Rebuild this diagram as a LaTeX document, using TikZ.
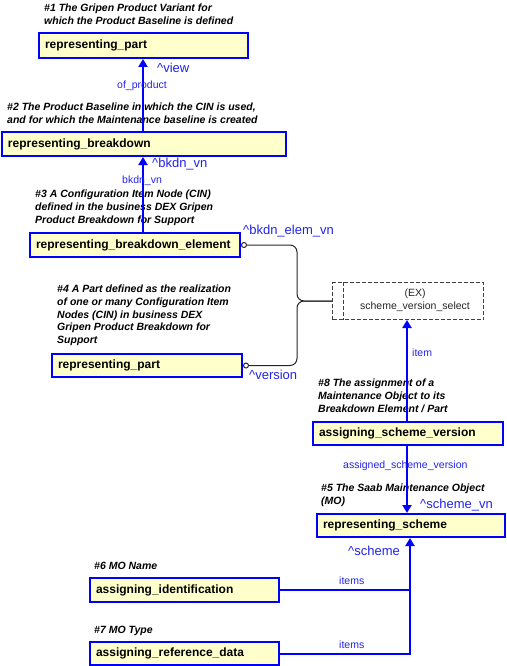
\documentclass[tikz,border=0pt]{standalone}
\usepackage{fontspec}
\setmainfont{Liberation Sans}
\usetikzlibrary{arrows.meta}
\definecolor{boxfill}{HTML}{FFFFCC}
\definecolor{lblue}{HTML}{0000FF}
\definecolor{txtblue}{HTML}{2222EE}
\definecolor{exgray}{HTML}{404040}
\begin{document}
\begin{tikzpicture}[x=1pt,y=-1pt,
  entity/.style={draw=lblue, line width=2pt, fill=boxfill, anchor=north west,
    inner xsep=6pt, inner ysep=0pt, align=left,
    font=\fontsize{12}{14}\selectfont\bfseries},
  note/.style={anchor=north west, inner sep=0pt, align=left,
    font=\fontsize{10.5}{12.6}\selectfont\bfseries\itshape},
  rolelbl/.style={text=txtblue, anchor=base west, inner sep=0pt,
    font=\fontsize{13}{15}\selectfont},
  attrlbl/.style={text=txtblue, anchor=base west, inner sep=0pt,
    font=\fontsize{10.5}{12.6}\selectfont},
  arr/.style={draw=lblue, line width=2pt, -{Triangle[length=8pt,width=9pt]}},
  bline/.style={draw=lblue, line width=2pt},
  bracel/.style={draw=black!85, line width=1pt, rounded corners=7pt,
    {Circle[open,length=6pt,width=6pt,fill=white]}-},
  exbox/.style={draw=exgray, dash pattern=on 4pt off 2pt, line width=1pt,
    fill=white, anchor=north west, inner sep=0pt}
]
\useasboundingbox (0,0) rectangle (506,666);

% entity boxes
\node[entity, minimum width=209pt, text width=197pt, minimum height=25pt] (b1) at (38,32) {representing\_part};
\node[entity, minimum width=284pt, text width=272pt, minimum height=24pt] (b2) at (1,131) {representing\_breakdown};
\node[entity, minimum width=210pt, text width=198pt, minimum height=24pt] (b3) at (29,232) {representing\_breakdown\_element};
\node[entity, minimum width=190pt, text width=178pt, minimum height=23pt] (b4) at (51,353) {representing\_part};
\node[entity, minimum width=190pt, text width=178pt, minimum height=23pt] (b6) at (312,421) {assigning\_scheme\_version};
\node[entity, minimum width=188pt, text width=176pt, minimum height=23pt] (b7) at (316,513) {representing\_scheme};
\node[entity, minimum width=189pt, text width=177pt, minimum height=24pt] (b8) at (89,577) {assigning\_identification};
\node[entity, minimum width=189pt, text width=177pt, minimum height=23pt] (b9) at (89,641) {assigning\_reference\_data};

% select box
\node[exbox, minimum width=151pt, minimum height=37pt] (ex) at (332,282) {};
\draw[draw=exgray, dash pattern=on 4pt off 2pt, line width=1pt]
  ([xshift=11pt]ex.north west) -- ([xshift=11pt]ex.south west);
\node[text=black!85, align=center, inner sep=0pt, font=\fontsize{10.5}{12.6}\selectfont] (extext) at (415,300) {(EX)\\scheme\_version\_select};

% annotations
\node[note] (n1) at (44,4) {\#1 The Gripen Product Variant for\\which the Product Baseline is defined};
\node[note] (n2) at (7,103) {\#2 The Product Baseline in which the CIN is used,\\and for which the Maintenance baseline is created};
\node[note] (n3) at (35,190) {\#3 A Configuration Item Node (CIN)\\defined in the business DEX Gripen\\Product Breakdown for Support};
\node[note] (n4) at (57,285) {\#4 A Part defined as the realization\\of one or many Configuration Item\\Nodes (CIN) in business DEX\\Gripen Product Breakdown for\\Support};
\node[note] (n8) at (318,379) {\#8 The assignment of a\\Maintenance Object to its\\Breakdown Element / Part};
\node[note] (n5) at (321,484) {\#5 The Saab Maintenance Object\\(MO)};
\node[note] (n6) at (94,562) {\#6 MO Name};
\node[note] (n7) at (94,626) {\#7 MO Type};

% connectors
\coordinate (xa) at (143,0);
\coordinate (xb) at (407,0);
\coordinate (xc) at (410,0);
\coordinate (xj) at (297,0);
\draw[arr] (b2.north -| xa) -- (b1.south -| xa);
\draw[arr] (b3.north -| xa) -- (b2.south -| xa);
\draw[arr] (b6.north -| xb) -- (ex.south -| xb);
\draw[arr] (b6.south -| xb) -- (b7.north -| xb);
\draw[bline] (b8.east) -- (b8.east -| xc);
\draw[arr] (b9.east) -| (b7.south -| xc);
\draw[bracel] (b3.east) -- (b3.east -| xj) -- (ex.west -| xj) -- (ex.west);
\draw[bracel] (b4.east) -- (b4.east -| xj) -- (ex.west -| xj) -- (ex.west);

% connector labels
\node[rolelbl] (l1) at (157,73) {\textasciicircum view};
\node[attrlbl] (l2) at (117,89) {of\_product};
\node[rolelbl] (l3) at (152,167) {\textasciicircum bkdn\_vn};
\node[attrlbl] (l4) at (122,183) {bkdn\_vn};
\node[rolelbl] (l5) at (243,234) {\textasciicircum bkdn\_elem\_vn};
\node[rolelbl] (l6) at (249,379) {\textasciicircum version};
\node[attrlbl] (l7) at (412,356) {item};
\node[attrlbl] (l8) at (343,468) {assigned\_scheme\_version};
\node[rolelbl] (l9) at (420,508) {\textasciicircum scheme\_vn};
\node[rolelbl] (l10) at (348,555) {\textasciicircum scheme};
\node[attrlbl] (l11) at (339,584) {items};
\node[attrlbl] (l12) at (339,648) {items};
\end{tikzpicture}
\end{document}
